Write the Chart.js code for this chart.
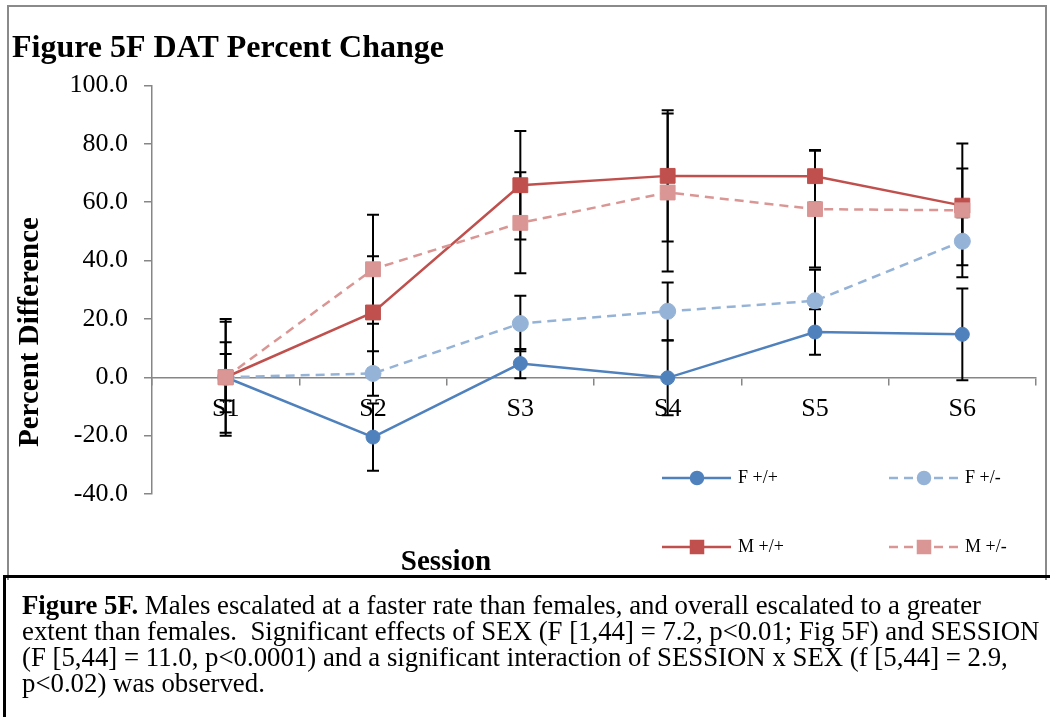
<!DOCTYPE html>
<html>
<head>
<meta charset="utf-8">
<title>Figure 5F DAT Percent Change</title>
<script src="https://cdn.jsdelivr.net/npm/chart.js@4.4.1/dist/chart.umd.min.js"></script>
<style>
  body { margin: 0; background: #fff; font-family: 'Liberation Serif', 'Times New Roman', serif; }
  #frame { position: absolute; left: 7px; top: 5px; width: 1040px; height: 575px; border: 2px solid #8a8a8a; border-bottom: none; box-sizing: border-box; }
  #chartWrap { position: absolute; left: 0; top: 0; width: 1050px; height: 578px; }
  #caption { position: absolute; left: 3px; top: 575px; width: 1060px; height: 160px; border: 3px solid #000; box-sizing: border-box;
             padding: 14px 0 0 16px; font-size: 26.8px; line-height: 26px; color: #000; white-space: nowrap; }
</style>
</head>
<body>
<div id="frame"></div>
<div id="chartWrap"><canvas id="datChart"></canvas></div>
<div id="caption">
  <b>Figure 5F.</b> Males escalated at a faster rate than females, and overall escalated to a greater<br>
  extent than females.&nbsp; Significant effects of SEX (F [1,44] = 7.2, p&lt;0.01; Fig 5F) and SESSION<br>
  (F [5,44] = 11.0, p&lt;0.0001) and a significant interaction of SESSION x SEX (f [5,44] = 2.9,<br>
  p&lt;0.02) was observed.
</div>
<script>
const sessions = ['S1', 'S2', 'S3', 'S4', 'S5', 'S6'];

// mean percent change per session
const femaleWT = [0, -20.5, 4.7, -0.2, 15.5, 14.7];
const femaleHet = [0, 1.3, 18.4, 22.6, 26.2, 46.6];
const maleWT = [0, 22.2, 65.8, 69.0, 68.9, 58.8];
const maleHet = [0, 37.0, 52.9, 63.3, 57.6, 57.2];

// error bar half-widths
const femaleWTErr = [20, 11.5, 5, 12.8, 7.8, 15.7];
const femaleHetErr = [12, 7.6, 9.5, 9.9, 10.6, 8.2];
const maleWTErr = [19, 19.3, 18.6, 22.5, 9, 12.7];
const maleHetErr = [8, 18.7, 17.3, 27.1, 20, 22.9];

const seriesLabels = ['F +/+', 'F +/-', 'M +/+', 'M +/-'];
const yMin = -40;
const yMax = 100;
const yStep = 20;

const serif = "'Liberation Serif', 'Times New Roman', serif";
const axisGray = '#868686';

const makeSeries = (label, data, errors, color, dashed, style, radius, order) => ({
  label: label,
  data: data,
  errors: errors,
  borderColor: color,
  backgroundColor: color,
  borderWidth: 2.5,
  borderDash: dashed ? [9, 6] : [],
  pointStyle: style,
  pointRadius: radius,
  pointBorderWidth: 1,
  pointBorderColor: color,
  pointBackgroundColor: color,
  tension: 0,
  order: order
});

// vertical error bars with caps, drawn under the lines and markers
const errorBars = {
  id: 'errorBars',
  beforeDatasetsDraw(chart) {
    const ctx = chart.ctx;
    const y = chart.scales.y;
    ctx.save();
    ctx.strokeStyle = '#000';
    ctx.lineWidth = 2;
    chart.data.datasets.forEach((ds, i) => {
      const meta = chart.getDatasetMeta(i);
      ds.data.forEach((v, j) => {
        const px = meta.data[j].x;
        const top = y.getPixelForValue(v + ds.errors[j]);
        const bottom = y.getPixelForValue(v - ds.errors[j]);
        ctx.beginPath();
        ctx.moveTo(px, top);
        ctx.lineTo(px, bottom);
        ctx.moveTo(px - 6, top);
        ctx.lineTo(px + 6, top);
        ctx.moveTo(px - 6, bottom);
        ctx.lineTo(px + 6, bottom);
        ctx.stroke();
      });
    });
    ctx.restore();
  }
};

// axis titles and the 2x2 legend at the lower right
const extras = {
  id: 'extras',
  afterDraw(chart) {
    const ctx = chart.ctx;
    ctx.save();
    ctx.fillStyle = '#000';
    ctx.font = 'bold 29px ' + serif;
    ctx.textAlign = 'center';
    ctx.textBaseline = 'middle';
    ctx.fillText('Session', 446, 563);
    ctx.translate(31, 332);
    ctx.rotate(-Math.PI / 2);
    ctx.fillText('Percent Difference', 0, 0);
    ctx.restore();

    const slots = [[662, 478], [889, 478], [662, 547], [889, 547]];
    chart.data.datasets.forEach((ds, i) => {
      const [lx, ly] = slots[i];
      ctx.save();
      ctx.strokeStyle = ds.borderColor;
      ctx.lineWidth = 2.5;
      ctx.setLineDash(ds.borderDash);
      ctx.beginPath();
      ctx.moveTo(lx, ly);
      ctx.lineTo(lx + 69, ly);
      ctx.stroke();
      ctx.setLineDash([]);
      ctx.fillStyle = ds.backgroundColor;
      Chart.helpers.drawPoint(ctx, {
        pointStyle: ds.pointStyle,
        radius: ds.pointStyle === 'rect' ? 8.5 : 6,
        borderWidth: 1,
        rotation: 0
      }, lx + 35, ly);
      ctx.fillStyle = '#000';
      ctx.font = '18px ' + serif;
      ctx.textAlign = 'left';
      ctx.textBaseline = 'middle';
      ctx.fillText(ds.label, lx + 76, ly);
      ctx.restore();
    });
  }
};

const ctx = document.getElementById('datChart').getContext('2d');
new Chart(ctx, {
  type: 'line',
  data: {
    labels: sessions,
    datasets: [
      makeSeries(seriesLabels[0], femaleWT, femaleWTErr, '#4F81BD', false, 'circle', 7, 3),
      makeSeries(seriesLabels[1], femaleHet, femaleHetErr, '#95B3D7', true, 'circle', 8, 2),
      makeSeries(seriesLabels[2], maleWT, maleWTErr, '#C0504D', false, 'rect', 10.5, 1),
      makeSeries(seriesLabels[3], maleHet, maleHetErr, '#D99694', true, 'rect', 10.5, 0)
    ]
  },
  options: {
    responsive: true,
    maintainAspectRatio: false,
    animation: false,
    layout: { padding: { left: 12, right: 14, top: 0, bottom: 84 } },
    plugins: {
      legend: { display: false },
      tooltip: { enabled: false },
      title: {
        display: true,
        text: 'Figure 5F DAT Percent Change',
        align: 'start',
        color: '#000',
        font: { family: serif, size: 32, weight: 'bold', lineHeight: 1.2 },
        padding: { top: 30, bottom: 17 }
      }
    },
    scales: {
      x: {
        position: { y: 0 },
        offset: true,
        grid: { offset: true, drawOnChartArea: false, drawTicks: true, tickLength: 7, color: axisGray, lineWidth: 1.5 },
        border: { color: axisGray, width: 1.5 },
        ticks: { color: '#000', font: { family: serif, size: 26 }, padding: 9, maxRotation: 0 }
      },
      y: {
        min: yMin,
        max: yMax,
        afterFit: (scale) => { scale.width = 140; },
        grid: { drawOnChartArea: false, tickLength: 8, color: axisGray, lineWidth: 1.5 },
        border: { color: axisGray, width: 1.5 },
        ticks: {
          stepSize: yStep,
          color: '#000',
          padding: 16,
          font: { family: serif, size: 26 },
          callback: (v) => v.toFixed(1)
        }
      }
    }
  },
  plugins: [errorBars, extras]
});
</script>
</body>
</html>
